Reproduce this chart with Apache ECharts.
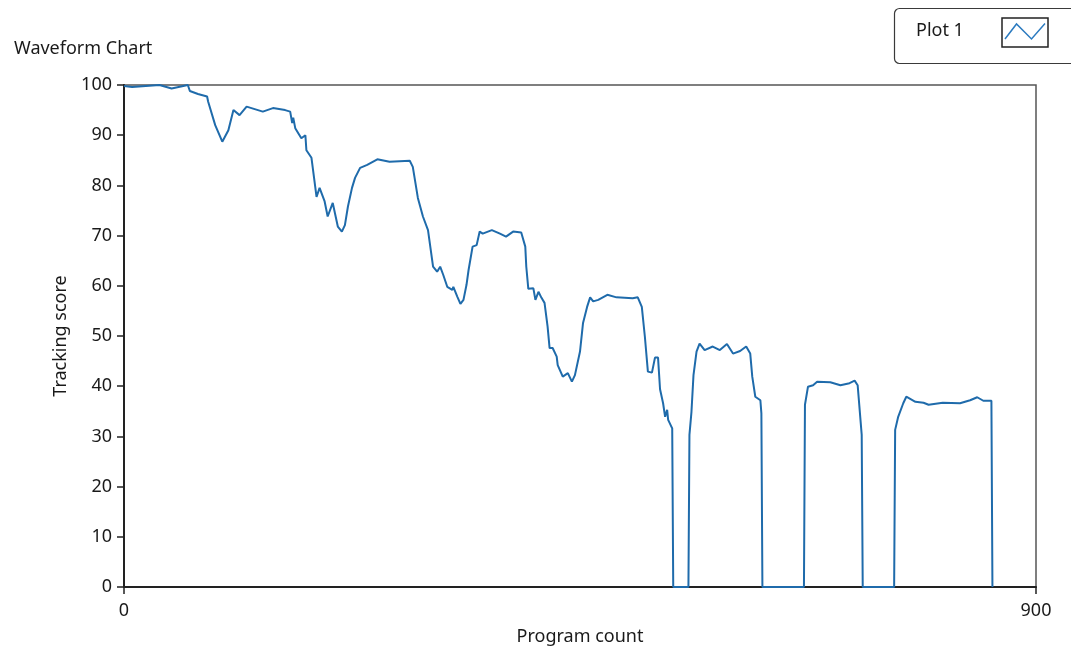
<!DOCTYPE html>
<html>
<head>
<meta charset="utf-8">
<title>Waveform Chart</title>
<script src="https://cdn.jsdelivr.net/npm/echarts@6/dist/echarts.min.js"></script>
<style>
  html, body { margin: 0; padding: 0; background: #ffffff; }
  #chart { width: 1071px; height: 651px; }
</style>
</head>
<body>
<div id="chart"></div>
<script>
// Program count (x) and tracking score (y) samples of Plot 1
const programCount = [
  0, 8, 35, 47, 63, 65, 73, 82, 83, 90, 97, 103, 108, 114, 121, 137, 147, 159, 164,
  166, 167, 169, 175, 179, 180, 185, 190, 193, 198, 201, 206, 211, 215, 218, 221,
  225, 228, 233, 240, 250, 262, 282, 285, 290, 295, 300, 305, 309, 312, 315, 319,
  324, 325, 329, 332, 335, 338, 340, 344, 348, 351, 354, 363, 371, 377, 384, 392,
  396, 397, 399, 404, 406, 409, 412, 415, 418, 420, 423, 427, 428, 433, 438, 442,
  445, 450, 453, 457, 460, 463, 468, 477, 486, 502, 507, 511, 514, 517, 521, 524,
  527, 529, 532, 534, 536, 537, 541, 542, 557, 558, 560, 562, 565, 568, 573, 581,
  588, 595, 601, 608, 614, 618, 620, 623, 628, 629, 630, 671, 672, 675, 680, 684,
  697, 707, 716, 721, 724, 728, 729, 760, 761, 764, 769, 772, 781, 789, 794, 808,
  825, 835, 842, 848, 856, 857
];
const trackingScore = [
  99.8, 99.6, 100, 99.3, 100, 98.8, 98.2, 97.7, 96.7, 92, 88.7, 91, 95, 94, 95.7, 94.7, 95.4, 95, 94.7,
  92.4, 93.5, 91.4, 89.4, 90, 87, 85.5, 77.7, 79.5, 76.8, 73.8, 76.5, 71.8, 70.8, 72.1, 75.8,
  79.5, 81.5, 83.5, 84.1, 85.2, 84.7, 84.9, 83.7, 77.5, 73.8, 71.1, 63.8, 62.8, 63.8, 62.2, 59.8,
  59.2, 59.8, 57.8, 56.4, 57.2, 60.2, 63.1, 67.8, 68.1, 70.8, 70.4, 71.1, 70.4, 69.8, 70.8, 70.6,
  67.8, 63.8, 59.4, 59.5, 57.2, 58.8, 57.6, 56.6, 51.9, 47.6, 47.6, 45.9, 44.2, 41.9, 42.6, 40.9,
  42.2, 46.9, 52.6, 55.8, 57.7, 56.9, 57.2, 58.2, 57.7, 57.5, 57.7, 55.8, 49.9, 42.9, 42.7, 45.7,
  45.7, 39.4, 36.6, 33.9, 35.3, 33.3, 31.6, 0, 0, 30.3, 34.9, 42.2, 46.9, 48.5, 47.2, 47.9,
  47.2, 48.4, 46.5, 47.0, 47.9, 46.5, 41.9, 37.9, 37.2, 34.6, 0, 0, 36.3, 39.9, 40.2, 40.9,
  40.8, 40.2, 40.6, 41.1, 40.2, 30.3, 0, 0, 31.3, 33.9, 36.6, 37.9, 36.9, 36.7, 36.3, 36.7,
  36.6, 37.2, 37.8, 37.1, 37.1, 0
];
const xTicks = [0, 900];
const yTicks = [0, 10, 20, 30, 40, 50, 60, 70, 80, 90, 100];

const FONT = '"Noto Sans", "Open Sans", sans-serif';
const TEXT = '#1a1a1a';
const LINE = '#1f6bab';

const chart = echarts.init(document.getElementById('chart'), null, { renderer: 'canvas' });

chart.setOption({
  backgroundColor: '#ffffff',
  animation: false,
  title: {
    text: 'Waveform Chart',
    left: 9,
    top: 35,
    textStyle: { fontFamily: FONT, fontSize: 18, fontWeight: 'normal', color: TEXT }
  },
  grid: {
    left: 124, right: 35, top: 85, bottom: 64,
    show: true, borderColor: '#555555', borderWidth: 1.5,
    containLabel: false,
    outerBoundsMode: 'none'
  },
  xAxis: {
    type: 'value',
    min: xTicks[0],
    max: xTicks[xTicks.length - 1],
    interval: xTicks[1] - xTicks[0],
    name: 'Program count',
    nameLocation: 'middle',
    nameGap: 41,
    nameTextStyle: { fontFamily: FONT, fontSize: 18, color: TEXT },
    axisLine: { show: true, lineStyle: { color: '#222222', width: 2 } },
    axisTick: { show: true, length: 7, lineStyle: { color: '#222222', width: 1.5 } },
    axisLabel: { margin: 15, fontFamily: FONT, fontSize: 18, color: TEXT },
    splitLine: { show: false }
  },
  yAxis: {
    type: 'value',
    min: yTicks[0],
    max: yTicks[yTicks.length - 1],
    interval: yTicks[1] - yTicks[0],
    name: 'Tracking score',
    nameLocation: 'middle',
    nameGap: 48,
    nameRotate: 90,
    nameTextStyle: { fontFamily: FONT, fontSize: 18, color: TEXT },
    axisLine: { show: true, lineStyle: { color: '#222222', width: 2 } },
    axisTick: { show: true, length: 7, lineStyle: { color: '#222222', width: 1.5 } },
    axisLabel: { margin: 12, fontFamily: FONT, fontSize: 18, color: TEXT },
    splitLine: { show: false }
  },
  series: [{
    name: 'Plot 1',
    type: 'line',
    data: programCount.map((x, i) => [x, trackingScore[i]]),
    showSymbol: false,
    symbol: 'none',
    clip: true,
    lineStyle: { color: LINE, width: 2 },
    itemStyle: { color: LINE }
  }],
  graphic: [
    {
      type: 'rect',
      shape: { x: 894.5, y: 8.5, width: 190, height: 55, r: 5 },
      style: { fill: '#ffffff', stroke: '#3a3a3a', lineWidth: 1.2 }
    },
    {
      type: 'text',
      left: 916, top: 22,
      style: { text: 'Plot 1', font: '18px ' + FONT, fill: TEXT }
    },
    {
      type: 'rect',
      shape: { x: 1002, y: 18, width: 46, height: 29 },
      style: { fill: '#ffffff', stroke: '#222222', lineWidth: 1.5 }
    },
    {
      type: 'polyline',
      shape: { points: [[1005, 39], [1016.5, 24], [1031.5, 39], [1045, 23.5]] },
      style: { fill: 'none', stroke: '#2c7bc0', lineWidth: 1.5 }
    }
  ]
});
</script>
</body>
</html>
